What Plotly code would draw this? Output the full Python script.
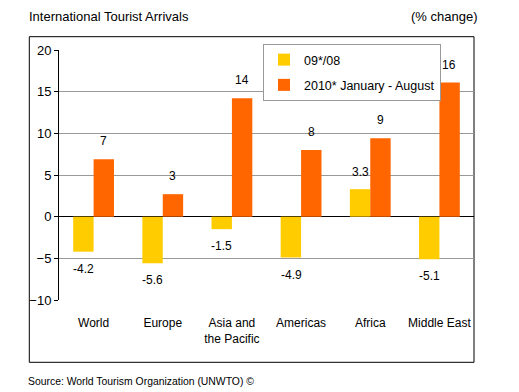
import plotly.graph_objects as go

categories = ["World", "Europe", "Asia and<br>the Pacific", "Americas", "Africa", "Middle East"]
series_0908 = [-4.2, -5.6, -1.5, -4.9, 3.3, -5.1]
series_2010 = [6.9, 2.7, 14.2, 8.0, 9.4, 16.1]
labels_0908 = ["-4.2", "-5.6", "-1.5", "-4.9", "3.3", "-5.1"]
labels_2010 = ["7", "3", "14", "8", "9", "16"]
y_ticks = [-10, -5, 0, 5, 10, 15, 20]

YELLOW = "#FFCC00"
ORANGE = "#FF6600"
FONT = "Liberation Sans, Arial, sans-serif"

fig = go.Figure()
fig.add_trace(go.Bar(x=categories, y=series_0908, name="09*/08", marker_color=YELLOW,
                     marker_line_width=0, legendgroup="a"))
fig.add_trace(go.Bar(x=categories, y=series_2010, name="2010* January - August", marker_color=ORANGE,
                     marker_line_width=0, legendgroup="b"))

annotations = []
for cat, v, t in zip(categories, series_0908, labels_0908):
    annotations.append(dict(x=cat, y=v, xref="x", yref="y", text=t, showarrow=False,
                            xshift=-10, yshift=17 if v > 0 else -17, yanchor="middle",
                            font=dict(family=FONT, size=12, color="black")))
for cat, v, t in zip(categories, series_2010, labels_2010):
    annotations.append(dict(x=cat, y=v, xref="x", yref="y", text=t, showarrow=False,
                            xshift=10, yshift=18 if v > 0 else -17, yanchor="middle",
                            font=dict(family=FONT, size=12, color="black")))

annotations.append(dict(text="International Tourist Arrivals", xref="paper", yref="paper",
                        x=(27 - 59) / 415, y=(300 - 16) / 250, xanchor="left", yanchor="middle",
                        showarrow=False, font=dict(family=FONT, size=13, color="black")))
annotations.append(dict(text="(% change)", xref="paper", yref="paper",
                        x=(479 - 59) / 415, y=(300 - 16) / 250, xanchor="right", yanchor="middle",
                        showarrow=False, font=dict(family=FONT, size=13, color="black")))
annotations.append(dict(text="Source: World Tourism Organization (UNWTO) ©", xref="paper", yref="paper",
                        x=(26 - 59) / 415, y=(300 - 381) / 250, xanchor="left", yanchor="middle",
                        showarrow=False, font=dict(family=FONT, size=10.4, color="black")))

fig.update_layout(
    width=519, height=392,
    margin=dict(l=59, r=45, t=50, b=92),
    paper_bgcolor="white", plot_bgcolor="white",
    barmode="group", bargap=0.41, bargroupgap=0,
    font=dict(family=FONT, size=12, color="black"),
    showlegend=True,
    legend=dict(x=(263 - 59) / 415, y=(300 - 44) / 250, xanchor="left", yanchor="top",
                bgcolor="white", bordercolor="#999999", borderwidth=1,
                font=dict(family=FONT, size=12.5, color="black"),
                tracegroupgap=6),
    annotations=annotations,
    shapes=[dict(type="rect", xref="paper", yref="paper",
                 x0=(29.3 - 59) / 415, x1=1.0, y0=(300 - 362.3) / 250, y1=(300 - 36.7) / 250,
                 line=dict(color="black", width=1), fillcolor="rgba(0,0,0,0)", layer="below")],
)
fig.update_xaxes(showline=False, ticks="", showgrid=False, zeroline=False,
                 tickfont=dict(family=FONT, size=12, color="black"), ticklabelstandoff=14)
fig.update_yaxes(range=[-10, 20], tickvals=y_ticks, showgrid=True, gridcolor="#999999", gridwidth=1,
                 zeroline=True, zerolinecolor="black", zerolinewidth=1,
                 showline=True, linecolor="black", linewidth=1,
                 ticks="outside", ticklen=4, tickcolor="black",
                 tickfont=dict(family=FONT, size=13, color="black"))

fig.write_html("out.html", config={"displayModeBar": False},
               post_script="document.body.style.margin='0';document.body.style.overflow='hidden';")
